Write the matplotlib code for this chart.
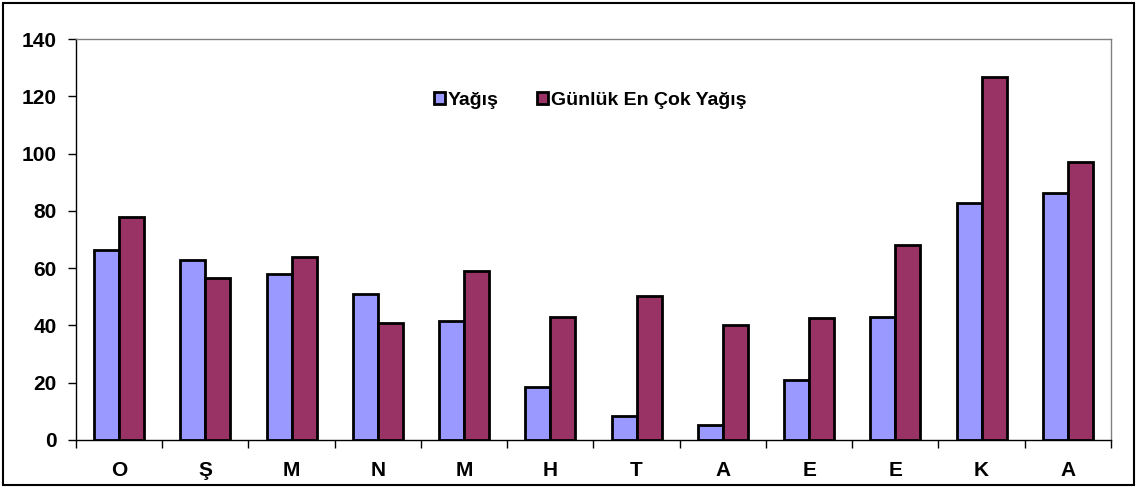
import numpy as np
import matplotlib
matplotlib.use('Agg')
import matplotlib.pyplot as plt
from matplotlib.patches import Rectangle

plt.rcParams['font.family'] = ['Liberation Sans', 'DejaVu Sans']
plt.rcParams['font.weight'] = 'bold'

months = ['O', 'Ş', 'M', 'N', 'M', 'H', 'T', 'A', 'E', 'E', 'K', 'A']
yagis = [66.4, 63.0, 57.8, 50.8, 41.7, 18.4, 8.4, 5.1, 20.8, 42.9, 82.9, 86.4]
gunluk_max = [77.8, 56.4, 63.8, 41.0, 59.0, 43.0, 50.2, 40.1, 42.6, 68.1, 126.7, 97.1]

fig = plt.figure(figsize=(11.37, 4.88), dpi=100)
ax = fig.add_axes([0.0668, 0.0984, 0.9103, 0.8216])

x = np.arange(len(months))
w = 0.29
ax.bar(x - w/2, yagis, w, color='#9999FF', edgecolor='black', linewidth=2, label='Yağış')
ax.bar(x + w/2, gunluk_max, w, color='#993366', edgecolor='black', linewidth=2, label='Günlük En Çok Yağış')

ax.set_xlim(-0.5, len(months) - 0.5)
ax.set_ylim(0, 140)
ax.set_yticks(range(0, 141, 20))
ax.set_xticks(x)
ax.set_xticklabels(months)
ax.set_xticks(np.arange(-0.5, len(months)), minor=True)
ax.tick_params(axis='x', which='major', length=0, pad=15, labelsize=15)
ax.tick_params(axis='x', which='minor', length=6, width=1, direction='out')
ax.tick_params(axis='y', length=6, width=1, direction='out', pad=8, labelsize=15)

ax.spines['left'].set_color('black')
ax.spines['bottom'].set_color('black')
ax.spines['top'].set_color('#808080')
ax.spines['right'].set_color('#808080')
for s in ax.spines.values():
    s.set_linewidth(1)

fig.legend(loc='center', bbox_to_anchor=(0.519, 0.795), ncol=2, frameon=False,
           fontsize=14, handlelength=0.55, handleheight=0.55, handletextpad=0.15,
           columnspacing=2.0)

# outer chart border
fig.patches.append(Rectangle((0.003, 0.006), 0.994, 0.987, transform=fig.transFigure,
                             fill=False, edgecolor='black', linewidth=1.5))

fig.savefig('out.png', dpi=100)
